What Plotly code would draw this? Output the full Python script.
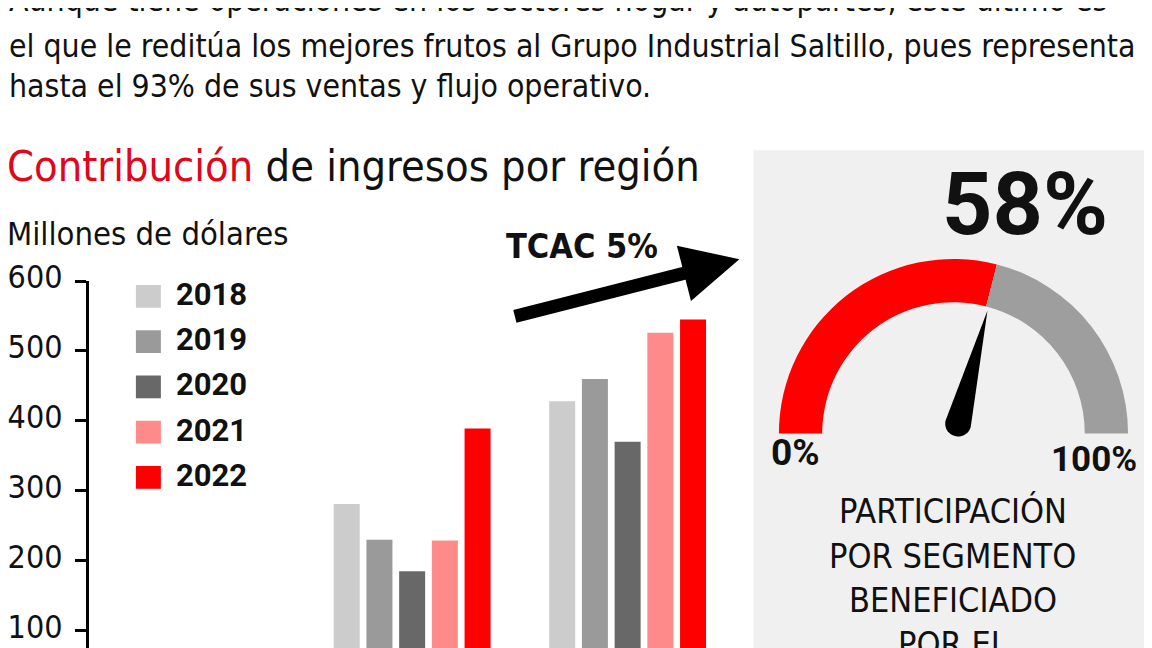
import math
import plotly.graph_objects as go

# ---------------- data ----------------
regions = ["Región 1", "Región 2"]
years = ["2018", "2019", "2020", "2021", "2022"]
v2018 = [281, 428]
v2019 = [230, 460]
v2020 = [185, 370]
v2021 = [229, 526]
v2022 = [389, 545]
series_values = [v2018, v2019, v2020, v2021, v2022]
series_colors = ["#cccccc", "#9a9a9a", "#686868", "#ff8a8a", "#ff0000"]
y_ticks = [100, 200, 300, 400, 500, 600]
gauge_value = 58
gauge_colors = ["#ff0000", "#9e9e9e"]
gauge_end_labels = ["0%", "100%"]
paragraph = [
    "Aunque tiene operaciones en los sectores hogar y autopartes, este último es",
    "el que le reditúa los mejores frutos al Grupo Industrial Saltillo, pues representa",
    "hasta el 93% de sus ventas y flujo operativo.",
]
gauge_caption = ["PARTICIPACIÓN", "POR SEGMENTO", "BENEFICIADO", "POR EL"]

# ---------------- page geometry helpers ----------------
W, H = 1152, 648
OFFX, OFFY, SY = 8.0, 24.5, 0.974   # where the page places the figure


def px(x):
    return (x - OFFX) / W


def py(y):
    return 1 - (y - OFFY) / SY / H


NARROW = "DejaVu Sans Condensed, Liberation Sans Narrow, sans-serif"
BOLD = "Roboto, Lato, sans-serif"
TXT = "#111111"
DY = -3.0  # small upward nudge for text boxes

# value axis: 600 at y=277, 100 at y=630 (picture pixels)
Y600, Y100 = 277.0, 630.0
ppu = (Y100 - Y600) / 500.0
y_bottom_val = 100 - ((OFFY + SY * H) - Y100) / ppu

fig = go.Figure()

for name, vals, col in zip(years, series_values, series_colors):
    fig.add_trace(go.Bar(x=regions, y=vals, name=name, marker_color=col,
                         marker_line_width=0, showlegend=False, hoverinfo="skip"))

# gauge as half donut
gcx, gcy, R = 953.3, 431.0, 181.0
fcx, fcy = gcx - OFFX, (gcy - OFFY) / SY
fig.add_trace(go.Pie(
    values=[gauge_value, 100 - gauge_value, 100],
    marker=dict(colors=gauge_colors + ["rgba(0,0,0,0)"], line=dict(width=0)),
    hole=0.752, rotation=-90, direction="clockwise", sort=False,
    textinfo="none", hoverinfo="skip", showlegend=False,
    domain=dict(x=[(fcx - R) / W, (fcx + R) / W], y=[1 - (fcy + R) / H, 1 - (fcy - R) / H]),
))

fig.update_layout(
    width=W, height=H, margin=dict(l=0, r=0, t=0, b=0),
    paper_bgcolor="white", plot_bgcolor="rgba(0,0,0,0)",
    barmode="group", bargap=0.241, bargroupgap=0.205,
    showlegend=False,
    font=dict(family=NARROW, color=TXT),
    xaxis=dict(domain=[px(88), px(735)], type="category", range=[-1.5, 1.5],
               showticklabels=False, showgrid=False, zeroline=False,
               showline=False, ticks=""),
    yaxis=dict(domain=[0, py(Y600)], range=[y_bottom_val, 600], tickvals=y_ticks,
               ticks="outside", ticklen=11, tickwidth=2.7, tickcolor="black",
               showline=True, linewidth=3, linecolor="black",
               showgrid=False, zeroline=False, ticklabelstandoff=6, ticklabelshift=-4,
               tickfont=dict(family=NARROW, size=32, color=TXT)),
)

shapes = []
annotations = []

# gauge panel background
shapes.append(dict(type="rect", xref="paper", yref="paper", layer="below",
                   x0=px(753), x1=1.02, y0=-0.02, y1=py(145),
                   fillcolor="#f0f0f0", line=dict(width=0)))

# paragraph
for line, yc in zip(paragraph, [-4.2, 42.4, 83.4]):
    annotations.append(dict(text=line, xref="paper", yref="paper", x=px(6), y=py(yc + DY),
                            xanchor="left", yanchor="middle", showarrow=False,
                            font=dict(family=NARROW, size=31.7, color=TXT)))

# title
annotations.append(dict(text="<span style='color:#e0061b'>Contribución</span> de ingresos por región",
                        xref="paper", yref="paper", x=px(4), y=py(163.5 + DY), xanchor="left",
                        yanchor="middle", showarrow=False,
                        font=dict(family=NARROW, size=43, color=TXT)))
annotations.append(dict(text="Millones de dólares", xref="paper", yref="paper", x=px(4), y=py(232.3 + DY),
                        xanchor="left", yanchor="middle", showarrow=False,
                        font=dict(family=NARROW, size=32.5, color=TXT)))

# legend (manual)
for i, (name, col) in enumerate(zip(years, series_colors)):
    yc = 292.5 + 45.7 * i
    shapes.append(dict(type="rect", xref="paper", yref="paper", x0=px(135), x1=px(160),
                       y0=py(yc + 11.5), y1=py(yc - 11.5), fillcolor=col, line=dict(width=0)))
    annotations.append(dict(text="<b>%s</b>" % name, xref="paper", yref="paper", x=px(173), y=py(yc + DY + 1),
                            xanchor="left", yanchor="middle", showarrow=False,
                            font=dict(family=BOLD, size=31, color=TXT)))

# TCAC arrow
annotations.append(dict(text="<b>TCAC 5%</b>", xref="paper", yref="paper", x=px(503), y=py(245 + DY),
                        xanchor="left", yanchor="middle", showarrow=False,
                        font=dict(family=NARROW, size=34, color=TXT)))
tipx, tipy, tailx, taily = 739.0, 255.0, 513.0, 311.0
annotations.append(dict(text="", xref="paper", yref="paper", x=px(tipx), y=py(tipy),
                        ax=tailx - tipx, ay=(taily - tipy) / SY, axref="pixel", ayref="pixel",
                        showarrow=True, arrowhead=2, arrowwidth=13, arrowsize=0.88,
                        arrowcolor="black"))

# gauge texts
annotations.append(dict(text="<b>%d%%</b>" % gauge_value, xref="paper", yref="paper", x=px(1025), y=py(199),
                        xanchor="center", yanchor="middle", showarrow=False,
                        font=dict(family=BOLD, size=88, color=TXT)))
annotations.append(dict(text="<b>%s</b>" % gauge_end_labels[0], xref="paper", yref="paper", x=px(769), y=py(453 + DY),
                        xanchor="left", yanchor="middle", showarrow=False,
                        font=dict(family=BOLD, size=37, color=TXT)))
annotations.append(dict(text="<b>%s</b>" % gauge_end_labels[1], xref="paper", yref="paper", x=px(1139), y=py(460 + DY),
                        xanchor="right", yanchor="middle", showarrow=False,
                        font=dict(family=BOLD, size=35, color=TXT)))
for i, line in enumerate(gauge_caption):
    annotations.append(dict(text=line, xref="paper", yref="paper", x=px(952.5), y=py(509.5 + 44.7 * i),
                            xanchor="center", yanchor="middle", showarrow=False,
                            font=dict(family=NARROW, size=34, color=TXT)))

# needle (angle from the gauge value)
pivot = (958.0, 421.0)
theta = math.pi * (1 - gauge_value / 100.0)
L, rb = 118.0, 13.0
tip = (pivot[0] + L * math.cos(theta), pivot[1] - L * math.sin(theta))
pts = [tip]
for k in range(0, 19):
    a = theta + math.pi / 2 + math.pi * k / 18
    pts.append((pivot[0] + rb * math.cos(a), pivot[1] - rb * math.sin(a)))
path = "M " + " L ".join("%.5f,%.5f" % (px(x), py(y)) for x, y in pts) + " Z"
shapes.append(dict(type="path", xref="paper", yref="paper", path=path,
                   fillcolor="black", line=dict(width=0)))

fig.update_layout(shapes=shapes, annotations=annotations)
fig.write_html("out.html")
